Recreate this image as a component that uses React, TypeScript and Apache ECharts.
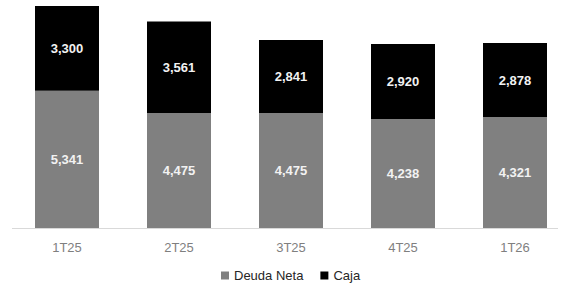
import React, { useEffect, useRef } from "react";
import * as echarts from "echarts";

const categories = ["1T25", "2T25", "3T25", "4T25", "1T26"];
const deudaNeta = [5341, 4475, 4475, 4238, 4321];
const caja = [3300, 3561, 2841, 2920, 2878];

const FONT = "Liberation Sans, Arial, Helvetica, sans-serif";

export default function App() {
  const ref = useRef<HTMLDivElement>(null);
  useEffect(() => {
    const chart = echarts.init(ref.current!, null, { renderer: "svg" });
    const label = {
      show: true,
      position: "inside",
      color: "#f2f2f2",
      fontWeight: "bold",
      fontSize: 13,
      fontFamily: FONT,
      formatter: (p: any) => p.value.toLocaleString("en-US"),
    };
    chart.setOption({
      animation: false,
      grid: { left: 11, width: 560, top: 6, bottom: 56 },
      graphic: [
        {
          type: "line",
          shape: { x1: 12, y1: 228.5, x2: 558, y2: 228.5 },
          style: { stroke: "#d9d9d9", lineWidth: 1 },
          z: 10,
        },
      ],
      xAxis: {
        type: "category",
        data: categories,
        axisLine: { show: false },
        axisTick: { show: false },
        axisLabel: { color: "#7f7f7f", fontSize: 13, margin: 13, fontFamily: FONT },
      },
      yAxis: {
        type: "value",
        min: 0,
        max: "dataMax",
        show: false,
        splitLine: { show: false },
      },
      legend: {
        top: 264,
        left: 216,
        icon: "rect",
        itemWidth: 8,
        itemHeight: 8,
        itemGap: 17,
        textStyle: { color: "#262626", fontSize: 13, fontFamily: FONT },
        data: ["Deuda Neta", "Caja"],
      },
      series: [
        {
          name: "Deuda Neta",
          type: "bar",
          stack: "total",
          data: deudaNeta,
          barWidth: 64,
          itemStyle: { color: "#808080" },
          label,
        },
        {
          name: "Caja",
          type: "bar",
          stack: "total",
          data: caja,
          barWidth: 64,
          itemStyle: { color: "#000000" },
          label,
        },
      ],
    });
    return () => chart.dispose();
  }, []);
  return (
    <div style={{ width: 561, height: 284, position: "absolute", left: 0, top: 0, overflow: "hidden" }}>
      <div ref={ref} style={{ width: 575, height: 284 }} />
    </div>
  );
}
